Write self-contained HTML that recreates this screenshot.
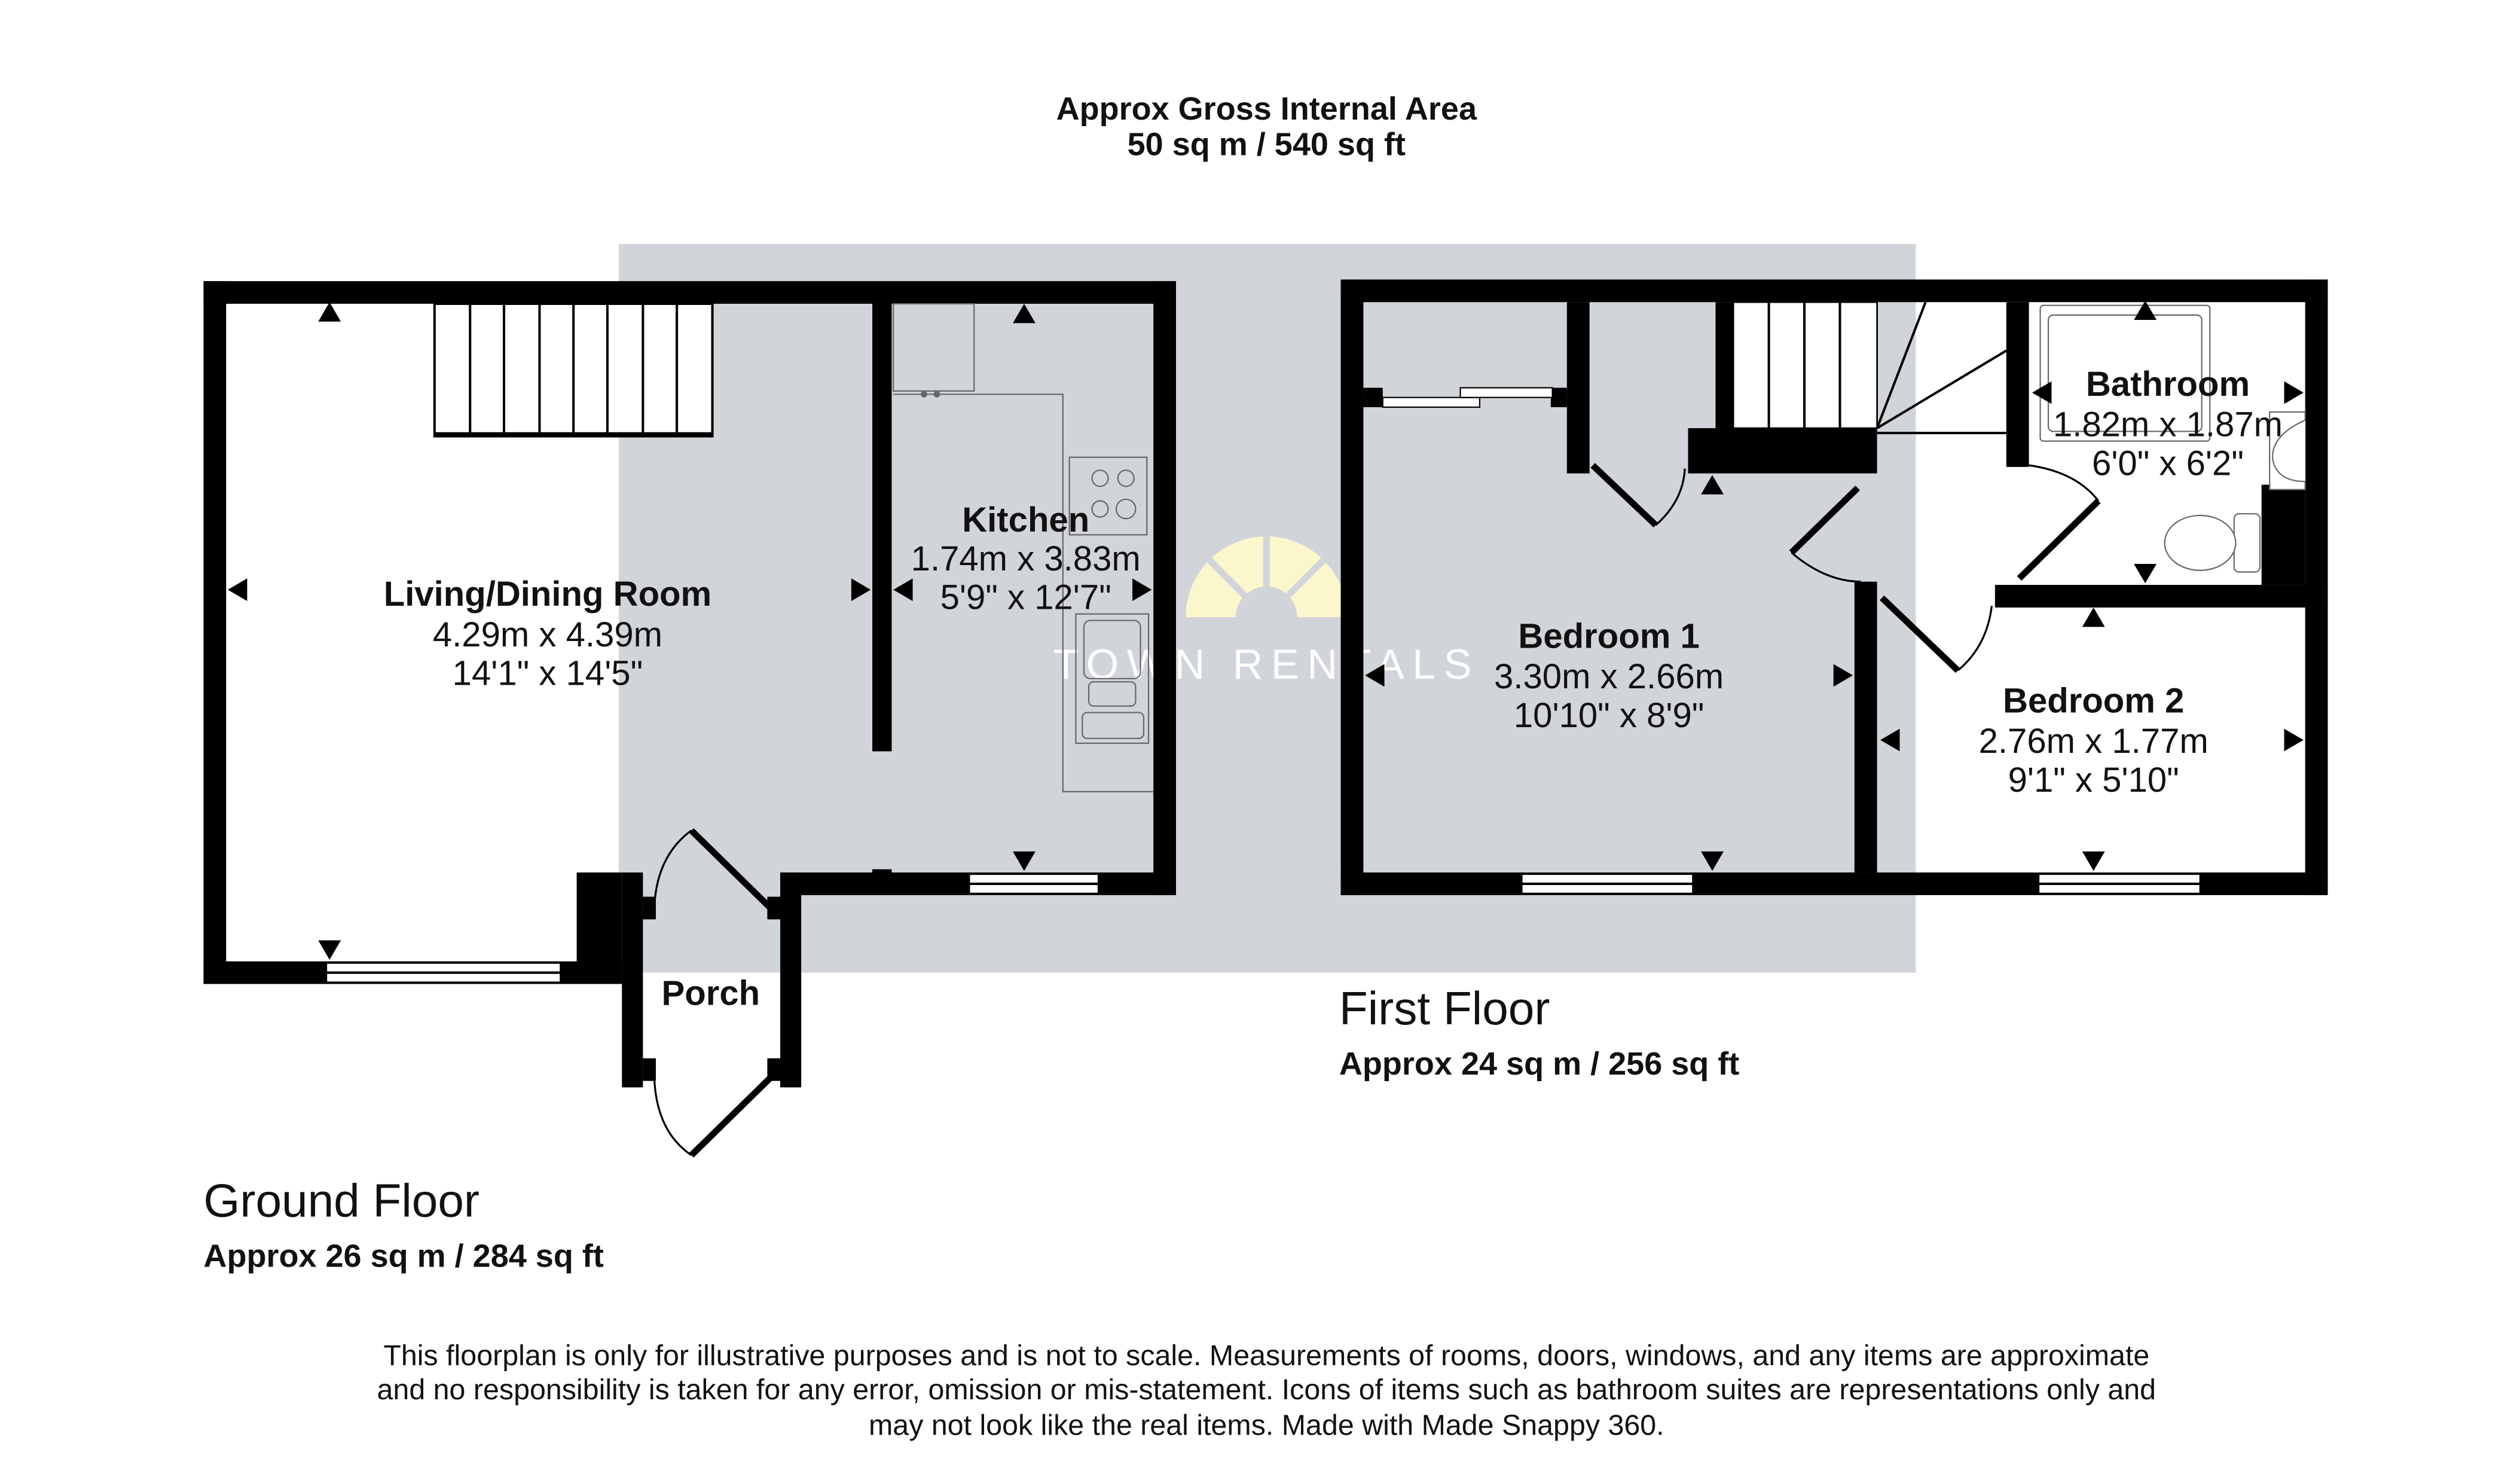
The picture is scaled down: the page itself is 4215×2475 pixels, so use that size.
<!DOCTYPE html>
<html><head><meta charset="utf-8"><style>
html,body{margin:0;padding:0;background:#fff;}
svg{display:block;}
text{font-family:"Liberation Sans",Arial,sans-serif;fill:#111;}
.b{font-weight:bold;}
</style></head><body>
<svg width="4215" height="2475" viewBox="0 0 1560 916" preserveAspectRatio="none" xmlns="http://www.w3.org/2000/svg">
<rect x="0" y="0" width="1560" height="916" fill="#fff"/>
<rect x="383" y="151" width="803" height="451" fill="#d1d4d9"/>

<g fill="#fbf6cc">
<path d="M734,382 A50,50 0 0 1 834,382 L803,382 A19,19 0 0 0 765,382 Z"/>
</g>
<g stroke="#d1d4d9" stroke-width="4">
<line x1="784" y1="382" x2="784" y2="330"/>
<line x1="784" y1="382" x2="748" y2="346"/>
<line x1="784" y1="382" x2="820" y2="346"/>
</g>
<text x="784" y="420" text-anchor="middle" font-size="26" style="fill:#fff;letter-spacing:5px">TOWN RENTALS</text>

<g fill="#000">
<rect x="126" y="174" width="602" height="14"/>
<rect x="126" y="174" width="14" height="435"/>
<rect x="714" y="174" width="14" height="380"/>
<rect x="483" y="540" width="245" height="14"/>
<rect x="126" y="595" width="259" height="14"/>
<rect x="357" y="540" width="28" height="69"/>
<rect x="540" y="188" width="12" height="277"/>
<rect x="385" y="540" width="13" height="133"/>
<rect x="483" y="540" width="13" height="133"/>
<rect x="398" y="555" width="8" height="14"/>
<rect x="475" y="555" width="8" height="14"/>
<rect x="398" y="655" width="8" height="14"/>
<rect x="475" y="655" width="8" height="14"/>
<rect x="540" y="538" width="12" height="4"/>
</g>
<g fill="#fff" stroke="#000" stroke-width="1">
<rect x="202" y="596" width="145" height="12"/>
<rect x="600" y="541" width="80" height="12"/>
</g>
<line x1="202" y1="602" x2="347" y2="602" stroke="#000" stroke-width="1.5"/>
<line x1="600" y1="547" x2="680" y2="547" stroke="#000" stroke-width="1.5"/>
<rect x="269" y="188" width="172" height="82" fill="#fff" stroke="#000" stroke-width="1.5"/>
<g stroke="#000" stroke-width="1.5">
<line x1="291" y1="188" x2="291" y2="268"/><line x1="312" y1="188" x2="312" y2="268"/>
<line x1="334" y1="188" x2="334" y2="268"/><line x1="355" y1="188" x2="355" y2="268"/>
<line x1="376" y1="188" x2="376" y2="268"/><line x1="398" y1="188" x2="398" y2="268"/>
<line x1="419" y1="188" x2="419" y2="268"/>
</g>
<line x1="269" y1="269" x2="441" y2="269" stroke="#000" stroke-width="3"/>
<g stroke="#000" stroke-width="4" fill="none">
<line x1="428" y1="514" x2="478" y2="563"/>
<line x1="428" y1="715" x2="478" y2="666"/>
</g>
<g stroke="#000" stroke-width="1.2" fill="none">
<path d="M428,514 Q406,530 405,563"/>
<path d="M428,715 Q406,700 405,666"/>
</g>
<g stroke="#666" stroke-width="0.8" fill="none">
<rect x="553" y="188" width="50" height="54"/>
<polyline points="553,244 658,244 658,490 714,490"/>
<rect x="662" y="283" width="48" height="48"/>
<circle cx="681" cy="296" r="5"/><circle cx="697" cy="296" r="5"/>
<circle cx="681" cy="315" r="5"/><circle cx="697" cy="315" r="6"/>
<rect x="666" y="380" width="45" height="80"/>
<rect x="671" y="384" width="35" height="36" rx="4"/>
<rect x="674" y="422" width="29" height="15" rx="3"/>
<rect x="670" y="441" width="38" height="16" rx="3"/>
</g>
<circle cx="572" cy="244" r="2" fill="#666"/><circle cx="580" cy="244" r="2" fill="#666"/>

<g fill="#000">
<rect x="830" y="173" width="611" height="14"/>
<rect x="830" y="173" width="14" height="381"/>
<rect x="1427" y="173" width="14" height="381"/>
<rect x="830" y="540" width="611" height="14"/>
<rect x="970" y="187" width="14" height="106"/>
<rect x="1045" y="265" width="117" height="28"/>
<rect x="1062" y="187" width="11" height="80"/>
<rect x="1148" y="360" width="14" height="180"/>
<rect x="1242" y="187" width="14" height="102"/>
<rect x="1235" y="362" width="206" height="14"/>
<rect x="1400" y="300" width="27" height="62"/>
<rect x="844" y="240" width="12" height="12"/>
<rect x="960" y="240" width="10" height="12"/>
</g>
<g fill="#fff" stroke="#000" stroke-width="0.8">
<rect x="856" y="246" width="60" height="6"/>
<rect x="904" y="240" width="57" height="6"/>
</g>
<rect x="1073" y="187" width="89" height="78" fill="#fff" stroke="#000" stroke-width="1"/>
<g stroke="#000" stroke-width="1.5">
<line x1="1095" y1="187" x2="1095" y2="265"/><line x1="1117" y1="187" x2="1117" y2="265"/>
<line x1="1139" y1="187" x2="1139" y2="265"/>
<line x1="1162" y1="265" x2="1192" y2="187"/>
<line x1="1162" y1="265" x2="1242" y2="217"/>
<line x1="1162" y1="268" x2="1242" y2="268"/>
</g>
<g stroke="#000" stroke-width="4" fill="none">
<line x1="986" y1="288" x2="1025" y2="325"/>
<line x1="1109" y1="342" x2="1150" y2="302"/>
<line x1="1165" y1="370" x2="1212" y2="415"/>
<line x1="1250" y1="358" x2="1299" y2="310"/>
</g>
<g stroke="#000" stroke-width="1.2" fill="none">
<path d="M1025,325 Q1042,310 1043,290"/>
<path d="M1109,342 Q1130,360 1152,360"/>
<path d="M1212,415 Q1230,400 1233,375"/>
<path d="M1256,288 Q1285,292 1299,310"/>
</g>
<g fill="#fff" stroke="#000" stroke-width="1">
<rect x="942" y="541" width="106" height="12"/>
<rect x="1262" y="541" width="100" height="12"/>
</g>
<line x1="942" y1="547" x2="1048" y2="547" stroke="#000" stroke-width="1.5"/>
<line x1="1262" y1="547" x2="1362" y2="547" stroke="#000" stroke-width="1.5"/>
<g stroke="#666" stroke-width="0.8" fill="#fff">
<rect x="1263" y="189" width="105" height="84" rx="2"/>
<rect x="1268" y="195" width="95" height="72" rx="3"/>
<rect x="1405" y="255" width="22" height="48"/>
<path d="M1427,260 Q1405,270 1407,285 Q1410,298 1427,298"/>
<rect x="1383" y="318" width="16" height="36" rx="3"/>
<ellipse cx="1362" cy="336" rx="22" ry="17"/>
</g>

<g fill="#000">
<polygon points="204,187 197,199 211,199"/>
<polygon points="204,594 197,582 211,582"/>
<polygon points="141,365 153,358 153,372"/>
<polygon points="539,365 527,358 527,372"/>
<polygon points="553,365 565,358 565,372"/>
<polygon points="713,365 701,358 701,372"/>
<polygon points="634,188 627,200 641,200"/>
<polygon points="634,539 627,527 641,527"/>
<polygon points="1060,294 1053,306 1067,306"/>
<polygon points="1060,539 1053,527 1067,527"/>
<polygon points="845,418 857,411 857,425"/>
<polygon points="1147,418 1135,411 1135,425"/>
<polygon points="1328,186 1321,198 1335,198"/>
<polygon points="1328,361 1321,349 1335,349"/>
<polygon points="1258,243 1270,236 1270,250"/>
<polygon points="1426,243 1414,236 1414,250"/>
<polygon points="1296,376 1289,388 1303,388"/>
<polygon points="1296,539 1289,527 1303,527"/>
<polygon points="1164,458 1176,451 1176,465"/>
<polygon points="1426,458 1414,451 1414,465"/>
</g>

<g text-anchor="middle" font-size="21.5">
<text x="339" y="375" class="b">Living/Dining Room</text>
<text x="339" y="400">4.29m x 4.39m</text>
<text x="339" y="424">14'1" x 14'5"</text>
<text x="635" y="329" class="b">Kitchen</text>
<text x="635" y="353">1.74m x 3.83m</text>
<text x="635" y="377">5'9" x 12'7"</text>
<text x="440" y="622" class="b">Porch</text>
<text x="996" y="401" class="b">Bedroom 1</text>
<text x="996" y="426">3.30m x 2.66m</text>
<text x="996" y="450">10'10" x 8'9"</text>
<text x="1342" y="245" class="b">Bathroom</text>
<text x="1342" y="270">1.82m x 1.87m</text>
<text x="1342" y="294">6'0" x 6'2"</text>
<text x="1296" y="441" class="b">Bedroom 2</text>
<text x="1296" y="466">2.76m x 1.77m</text>
<text x="1296" y="490">9'1" x 5'10"</text>
</g>

<g text-anchor="middle" font-size="20">
<text x="784" y="74" class="b">Approx Gross Internal Area</text>
<text x="784" y="96" class="b">50 sq m / 540 sq ft</text>
</g>
<text x="829" y="634" font-size="29">First Floor</text>
<text x="829" y="665" font-size="20" class="b">Approx 24 sq m / 256 sq ft</text>
<text x="126" y="753" font-size="29">Ground Floor</text>
<text x="126" y="784" font-size="20" class="b">Approx 26 sq m / 284 sq ft</text>

<g text-anchor="middle" font-size="17.9">
<text x="784" y="845">This floorplan is only for illustrative purposes and is not to scale. Measurements of rooms, doors, windows, and any items are approximate</text>
<text x="784" y="866">and no responsibility is taken for any error, omission or mis-statement. Icons of items such as bathroom suites are representations only and</text>
<text x="784" y="888">may not look like the real items. Made with Made Snappy 360.</text>
</g>
</svg>
</body></html>
